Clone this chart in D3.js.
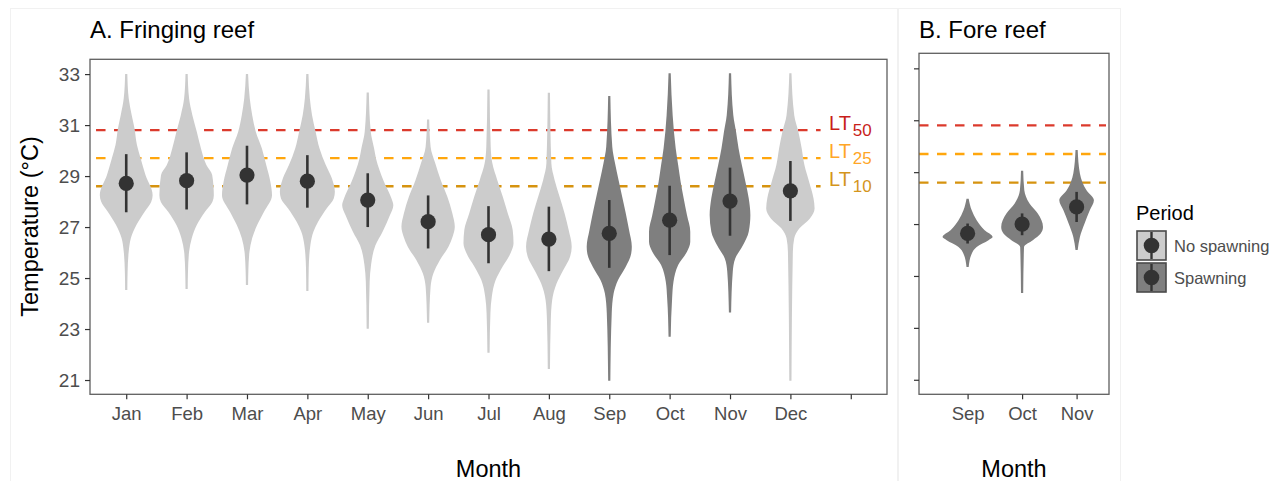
<!DOCTYPE html>
<html><head><meta charset="utf-8">
<script src="https://cdn.jsdelivr.net/npm/d3@7"></script>
<style>body{margin:0;background:#fff} svg{display:block} text{font-family:"Liberation Sans",Arial,sans-serif}</style>
</head><body><svg id="c" width="1287" height="481"></svg>
<script>
// ---------- data ----------
const monthsA = ["Jan","Feb","Mar","Apr","May","Jun","Jul","Aug","Sep","Oct","Nov","Dec",""];
const periodA = ["No spawning","No spawning","No spawning","No spawning","No spawning","No spawning","No spawning","No spawning","Spawning","Spawning","Spawning","No spawning"];
const meanA = [28.71,28.82,29.04,28.80,28.06,27.21,26.70,26.53,26.75,27.27,28.02,28.42];
const lowA  = [27.58,27.69,27.89,27.76,27.00,26.16,25.58,25.27,25.40,25.90,26.66,27.24];
const highA = [29.86,29.93,30.19,29.82,29.11,28.24,27.82,27.80,28.06,28.62,29.33,29.59];
// violin profiles: [temperature, relative density]
const violinA = [
  [[33.0,0.04],[32.05,0.09],[31.39,0.2],[30.88,0.3],[30.22,0.39],[29.71,0.52],[29.04,0.7],[28.25,0.96],[27.99,0.91],[27.6,0.67],[27.08,0.37],[26.57,0.17],[26.03,0.09],[25.25,0.05],[24.53,0.04]],
  [[33.0,0.04],[32.05,0.09],[31.39,0.21],[30.74,0.37],[30.09,0.52],[29.43,0.72],[29.04,0.93],[28.25,0.99],[27.99,0.94],[27.6,0.67],[27.08,0.37],[26.57,0.19],[26.03,0.09],[25.25,0.05],[24.57,0.04]],
  [[33.0,0.04],[32.05,0.1],[31.39,0.19],[30.74,0.32],[30.09,0.54],[29.43,0.7],[28.78,0.85],[28.25,0.91],[27.6,0.62],[27.08,0.37],[26.57,0.19],[26.03,0.09],[25.3,0.05],[24.73,0.04]],
  [[33.0,0.04],[32.05,0.09],[31.39,0.17],[30.74,0.3],[30.09,0.44],[29.43,0.67],[28.91,0.89],[28.38,1.0],[28.12,0.96],[27.73,0.7],[27.21,0.39],[26.82,0.22],[26.3,0.11],[25.4,0.05],[24.49,0.04]],
  [[32.28,0.04],[30.74,0.11],[30.09,0.23],[29.69,0.3],[28.78,0.59],[28.13,0.86],[27.86,0.93],[27.47,0.81],[26.82,0.54],[26.29,0.28],[25.51,0.12],[24.85,0.07],[23.01,0.04]],
  [[31.22,0.04],[30.15,0.09],[29.5,0.26],[28.84,0.46],[28.19,0.7],[27.54,0.88],[27.01,0.97],[26.62,0.89],[26.23,0.74],[25.71,0.43],[25.18,0.19],[24.66,0.09],[23.25,0.04]],
  [[32.4,0.04],[30.15,0.08],[29.5,0.14],[28.84,0.32],[28.19,0.52],[27.54,0.7],[26.88,0.88],[26.36,0.91],[25.97,0.8],[25.44,0.51],[24.92,0.26],[24.27,0.12],[23.62,0.07],[22.07,0.04]],
  [[32.27,0.04],[29.5,0.09],[28.84,0.21],[28.19,0.39],[27.54,0.57],[26.88,0.72],[26.23,0.83],[25.84,0.77],[25.31,0.52],[24.79,0.28],[24.14,0.12],[23.35,0.07],[21.43,0.04]],
  [[32.14,0.04],[30.15,0.11],[29.5,0.21],[28.84,0.34],[28.19,0.47],[27.54,0.6],[26.88,0.72],[26.23,0.82],[25.97,0.8],[25.44,0.6],[24.92,0.32],[24.4,0.16],[23.62,0.09],[20.97,0.04]],
  [[33.03,0.04],[31.39,0.11],[30.09,0.22],[29.43,0.31],[28.78,0.4],[28.13,0.51],[27.47,0.63],[26.82,0.75],[26.42,0.75],[26.03,0.63],[25.51,0.31],[24.85,0.14],[24.2,0.09],[22.7,0.04]],
  [[33.03,0.04],[31.39,0.12],[30.74,0.22],[30.09,0.31],[29.43,0.43],[28.78,0.56],[28.13,0.68],[27.47,0.74],[26.82,0.68],[26.29,0.47],[25.77,0.19],[25.25,0.1],[23.65,0.04]],
  [[33.03,0.04],[31.39,0.14],[30.74,0.29],[30.09,0.41],[29.43,0.51],[28.78,0.68],[28.13,0.84],[27.73,0.88],[27.34,0.71],[26.95,0.33],[26.56,0.14],[26.03,0.09],[20.97,0.04]]
];
const monthsB = ["Sep","Oct","Nov"];
const periodB = ["Spawning","Spawning","Spawning"];
const meanB = [26.64,27.0,27.66];
const lowB  = [26.25,26.57,27.08];
const highB = [27.02,27.41,28.24];
const violinB = [
  [[27.98,0.04],[27.53,0.15],[27.15,0.33],[26.76,0.62],[26.5,0.91],[26.38,0.76],[26.12,0.33],[25.86,0.15],[25.35,0.04]],
  [[29.05,0.04],[28.3,0.08],[27.79,0.27],[27.41,0.57],[26.89,0.76],[26.63,0.67],[26.38,0.39],[26.12,0.07],[24.34,0.04]],
  [[29.85,0.04],[28.95,0.12],[28.3,0.36],[27.92,0.63],[27.53,0.48],[27.02,0.29],[26.5,0.12],[26.0,0.04]]
];
const ltValues = [30.8, 29.7, 28.6];
const ltSubs = ["50","25","10"];
const yTicks = [21,23,25,27,29,31,33];
const periods = ["No spawning","Spawning"];

// ---------- styles ----------
const lineCol = ["#db3a2c","#ffa60d","#d6930f"];
const textCol = ["#c81e1a","#ffa626","#d4951c"];
const fillScale = d3.scaleOrdinal().domain(periods).range(["#cccccc","#7f7f7f"]);
const svg = d3.select("#c");
const yDomain = [20.44, 33.58];

// faint panel frames
svg.append("rect").attr("x",10.5).attr("y",8.5).attr("width",887).attr("height",480).attr("fill","none").attr("stroke","#f1f1f1");
svg.append("rect").attr("x",898.5).attr("y",8.5).attr("width",222).attr("height",480).attr("fill","none").attr("stroke","#f1f1f1");

function panel(opt){
  const g = svg.append("g");
  const x = d3.scalePoint().domain(opt.months).range([opt.left, opt.right]).padding(opt.pad).align(opt.align);
  const y = d3.scaleLinear().domain(yDomain).range([opt.bottom, opt.top]);
  const w = d3.scaleLinear().domain([0,1]).range([0,27.5]);
  // thresholds
  ltValues.forEach((v,i)=>{
    const x0 = opt.segFull ? opt.left : x(opt.months[0]) - x.step()*0.5;
    const x1 = opt.segFull ? opt.right - 3 : x(opt.months[11]) + x.step()*0.5;
    g.append("line").attr("x1",x0).attr("x2",x1).attr("y1",y(v)).attr("y2",y(v))
      .attr("stroke",lineCol[i]).attr("stroke-width",2.3).attr("stroke-dasharray","9.5,8.5");
  });
  // violins
  const area = d3.area().curve(d3.curveMonotoneY);
  opt.violins.forEach((prof,i)=>{
    const cx = x(opt.months[i]);
    const pts = prof.slice().sort((a,b)=>b[0]-a[0]);
    area.y(d=>y(d[0])).x0(d=>cx - w(d[1])).x1(d=>cx + w(d[1]));
    g.append("path").attr("d",area(pts)).attr("fill",fillScale(opt.period[i]));
  });
  // mean +- sd
  opt.violins.forEach((prof,i)=>{
    const cx = x(opt.months[i]);
    g.append("line").attr("x1",cx).attr("x2",cx).attr("y1",y(opt.high[i])).attr("y2",y(opt.low[i]))
      .attr("stroke","#333333").attr("stroke-width",2.6);
    g.append("circle").attr("cx",cx).attr("cy",y(opt.mean[i])).attr("r",7.6).attr("fill","#333333");
  });
  // border
  g.append("rect").attr("x",opt.left).attr("y",opt.top).attr("width",opt.right-opt.left).attr("height",opt.bottom-opt.top)
    .attr("fill","none").attr("stroke","#5f5f5f").attr("stroke-width",1.3);
  // y axis
  const ya = g.append("g").attr("transform",`translate(${opt.left},0)`)
    .call(d3.axisLeft(y).tickValues(yTicks).tickSize(5).tickPadding(5).tickFormat(opt.yLabels ? d3.format("d") : ""));
  ya.select(".domain").remove();
  ya.selectAll(".tick line").attr("stroke","#333333").attr("stroke-width",1.2);
  ya.selectAll(".tick text").attr("fill","#4d4d4d").style("font-size","19px");
  // x axis
  const xa = g.append("g").attr("transform",`translate(0,${opt.bottom})`)
    .call(d3.axisBottom(x).tickSize(5).tickPadding(8));
  xa.select(".domain").remove();
  xa.selectAll(".tick line").attr("stroke","#333333").attr("stroke-width",1.2);
  xa.selectAll(".tick text").attr("fill","#4d4d4d").style("font-size","18.5px");
  // titles
  g.append("text").attr("x",opt.left).attr("y",38.3).text(opt.title).style("font-size","24px").attr("fill","#000");
  g.append("text").attr("x",(opt.left+opt.right)/2).attr("y",476.5).attr("text-anchor","middle")
    .text("Month").style("font-size","23.5px").attr("fill","#000");
  return {x,y,g};
}

const A = panel({months:monthsA, period:periodA, mean:meanA, low:lowA, high:highA, violins:violinA,
  left:90, right:887, top:59.3, bottom:394.3, pad:0.6, align:0.5, yLabels:true, title:"A. Fringing reef", segFull:false});
const B = panel({months:monthsB, period:periodB, mean:meanB, low:lowB, high:highB, violins:violinB,
  left:919, right:1109, top:53.3, bottom:394.3, pad:0.743, align:0.6, yLabels:false, title:"B. Fore reef", segFull:true});

// LT labels
ltValues.forEach((v,i)=>{
  const t = A.g.append("text").attr("x",829).attr("y",A.y(v)).attr("fill",textCol[i]).style("font-size","20px");
  t.append("tspan").text("LT");
  t.append("tspan").attr("dx",2).attr("dy",6).style("font-size","17px").text(ltSubs[i]);
});

// y axis title
svg.append("text").attr("transform",`translate(38,226.5) rotate(-90)`).attr("text-anchor","middle")
  .text("Temperature (°C)").style("font-size","23.5px").attr("fill","#000");

// legend
const lg = svg.append("g");
lg.append("text").attr("x",1136).attr("y",220).text("Period").style("font-size","20px").attr("fill","#000");
periods.forEach((p,i)=>{
  const ky = 231 + i*32;
  lg.append("rect").attr("x",1137).attr("y",ky).attr("width",29).attr("height",29)
    .attr("fill",fillScale(p)).attr("stroke","#4a4a4a").attr("stroke-width",1.6);
  lg.append("line").attr("x1",1151.5).attr("x2",1151.5).attr("y1",ky+1).attr("y2",ky+28).attr("stroke","#333").attr("stroke-width",2.4);
  lg.append("circle").attr("cx",1151.5).attr("cy",ky+14.5).attr("r",7.8).attr("fill","#333");
  lg.append("text").attr("x",1174).attr("y",ky+20.5).text(p).style("font-size","16.5px").attr("fill","#4d4d4d");
});
</script></body></html>
